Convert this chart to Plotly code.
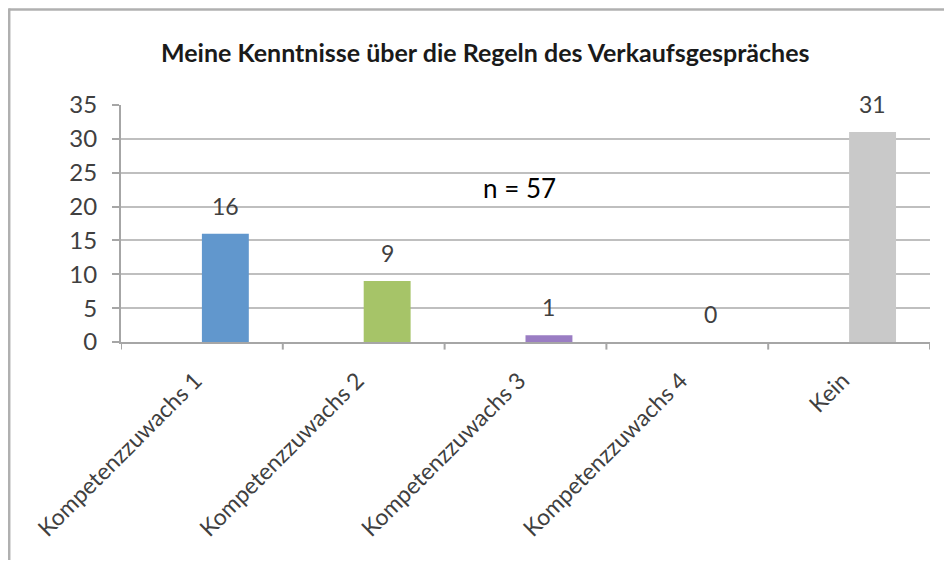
import plotly.graph_objects as go

categories = ["Kompetenzzuwachs 1", "Kompetenzzuwachs 2", "Kompetenzzuwachs 3",
              "Kompetenzzuwachs 4", "Kein"]
values = [16, 9, 1, 0, 31]
bar_colors = ["#6197CD", "#A6C468", "#9A7DC3", "#C9C9C9", "#C9C9C9"]
y_ticks = [0, 5, 10, 15, 20, 25, 30, 35]
title_text = "Meine Kenntnisse über die Regeln des Verkaufsgespräches"
note_text = "n = 57"

FONT = "Lato"
BAR_W = 0.29
LABEL_SHIFT = -0.04

# figure geometry (page has an 8px body margin on every side)
W, H = 936, 552
L, R, T, B = 113, 14, 97, 218
PW, PH = W - L - R, H - T - B


def px_to_paper_x(px):
    return (px - L) / PW


def px_to_paper_y(py):
    return (H - B - py) / PH


fig = go.Figure()
fig.add_trace(go.Bar(
    x=list(range(len(categories))),
    y=values,
    marker=dict(color=bar_colors, line=dict(width=0)),
    offset=0.0,
    width=BAR_W,
    hoverinfo="skip",
))

annotations = []
for i, v in enumerate(values):
    annotations.append(dict(
        x=i + BAR_W / 2, y=v, xref="x", yref="y",
        text=str(v), showarrow=False, yshift=28,
        font=dict(family=FONT, size=23, color="#404040"),
    ))
annotations.append(dict(
    x=0.493, y=0.65, xref="paper", yref="paper",
    xanchor="center", yanchor="middle",
    text=note_text, showarrow=False,
    font=dict(family=FONT, size=26, color="#000000"),
))
annotations.append(dict(
    x=px_to_paper_x(477), y=px_to_paper_y(44), xref="paper", yref="paper",
    xanchor="center", yanchor="middle",
    text="<b>" + title_text + "</b>", showarrow=False,
    font=dict(family=FONT, size=25, color="#1a1a1a"),
))

fig.update_layout(
    width=W, height=H,
    margin=dict(l=L, r=R, t=T, b=B),
    paper_bgcolor="white", plot_bgcolor="white",
    showlegend=False,
    annotations=annotations,
    xaxis=dict(
        tickmode="array",
        tickvals=[i + LABEL_SHIFT for i in range(len(categories))],
        ticktext=categories,
        range=[-0.5, len(categories) - 0.5],
        tickangle=-45,
        tickfont=dict(family=FONT, size=23, color="#404040"),
        ticklabelstandoff=14,
        showgrid=False,
        showline=True, linecolor="#A6A6A6", linewidth=2,
        ticks="", zeroline=False,
    ),
    yaxis=dict(
        range=[0, 35],
        tickvals=y_ticks,
        tickfont=dict(family=FONT, size=24, color="#404040"),
        ticklabelstandoff=10,
        showgrid=True, gridcolor="#BFBFBF", gridwidth=2,
        showline=True, linecolor="#A6A6A6", linewidth=2,
        ticks="outside", ticklen=7, tickcolor="#A6A6A6", tickwidth=2,
        zeroline=False,
    ),
)

# category boundary tick marks on x-axis
for b in range(len(categories) + 1):
    fig.add_shape(type="line", xref="x", yref="paper",
                  x0=b - 0.5, x1=b - 0.5, y0=0, y1=-0.032,
                  line=dict(color="#A6A6A6", width=2))

# chart frame: only top and left edges are visible in the picture
frame_line = dict(color="#B0B0B0", width=2.5)
fig.add_shape(type="line", xref="paper", yref="paper",
              x0=px_to_paper_x(0.5), x1=px_to_paper_x(W),
              y0=px_to_paper_y(1.5), y1=px_to_paper_y(1.5),
              line=frame_line, layer="below")
fig.add_shape(type="line", xref="paper", yref="paper",
              x0=px_to_paper_x(1.2), x1=px_to_paper_x(1.2),
              y0=px_to_paper_y(0.5), y1=px_to_paper_y(H),
              line=frame_line, layer="below")

fig.write_html("out.html")
